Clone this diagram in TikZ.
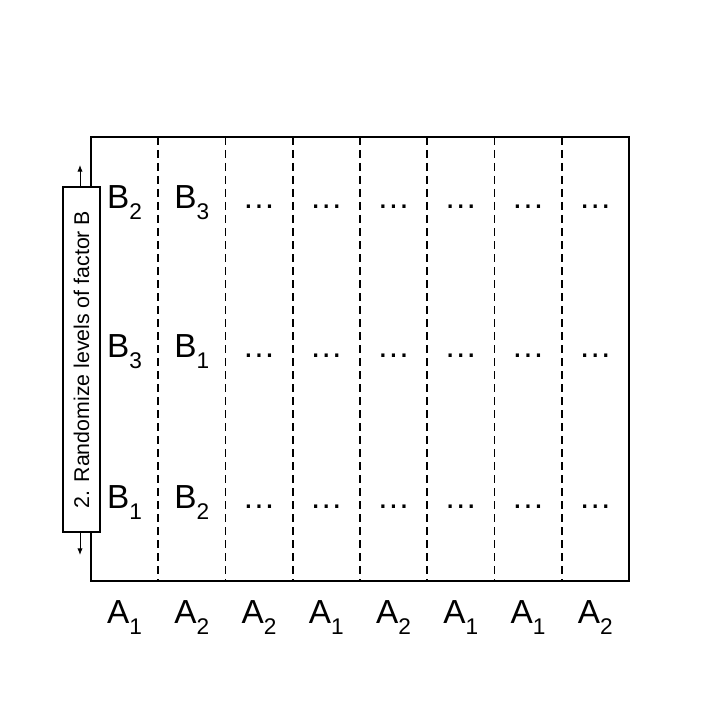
\documentclass[tikz,border=0pt]{standalone}
\usepackage{fontspec}
\setmainfont{Liberation Sans}
\usetikzlibrary{arrows.meta}
\newcommand\low[1]{\raisebox{-8.25pt}{\fontsize{17}{17}\selectfont #1}}

\begin{document}
\begin{tikzpicture}[
  x=0.75pt, y=-0.75pt,
  frame/.style={draw, line width=1.5pt},
  split/.style={line width=1.4pt, dash pattern=on 6pt off 3.75pt},
  lab/.style={anchor=base, inner sep=0pt, font=\fontsize{25}{30}\selectfont},
  randbox/.style={draw, fill=white, line width=1.5pt, rotate=90, minimum width=259pt, minimum height=28pt, inner sep=0pt, font=\fontsize{16}{19}\selectfont},
  arr/.style={-{Latex[length=5pt,width=4pt]}, line width=0.75pt}
]
\useasboundingbox (0,0) rectangle (720,720);

% plot frame and the column splits
\coordinate (tl) at (91,137);
\coordinate (br) at (629,581);
\draw[frame] (tl) rectangle (br);
\draw[split] (158.25,137) -- (158.25,581);
\draw[split] (225.5,137) -- (225.5,581);
\draw[split] (292.75,137) -- (292.75,581);
\draw[split] (360,137) -- (360,581);
\draw[split] (427.25,137) -- (427.25,581);
\draw[split] (494.5,137) -- (494.5,581);
\draw[split] (561.75,137) -- (561.75,581);

% randomisation box with its arrows
\node[randbox] (rand) at (81.4,359.4) {2. Randomize levels of factor B};
\coordinate (up) at (80,165);
\coordinate (down) at (80,555);
\draw[arr] (rand.east -| up) -- (up);
\draw[arr] (rand.west -| down) -- (down);

% top row
\node[lab] (b11) at (124.6,209) {B\low{2}};
\node[lab] (b12) at (191.9,209) {B\low{3}};
\node[lab] (b13) at (259.1,209) {…};
\node[lab] (b14) at (326.4,209) {…};
\node[lab] (b15) at (393.6,209) {…};
\node[lab] (b16) at (460.9,209) {…};
\node[lab] (b17) at (528.1,209) {…};
\node[lab] (b18) at (595.4,209) {…};

% middle row
\node[lab] (b21) at (124.6,357) {B\low{3}};
\node[lab] (b22) at (191.9,357) {B\low{1}};
\node[lab] (b23) at (259.1,357) {…};
\node[lab] (b24) at (326.4,357) {…};
\node[lab] (b25) at (393.6,357) {…};
\node[lab] (b26) at (460.9,357) {…};
\node[lab] (b27) at (528.1,357) {…};
\node[lab] (b28) at (595.4,357) {…};

% bottom row
\node[lab] (b31) at (124.6,508) {B\low{1}};
\node[lab] (b32) at (191.9,508) {B\low{2}};
\node[lab] (b33) at (259.1,508) {…};
\node[lab] (b34) at (326.4,508) {…};
\node[lab] (b35) at (393.6,508) {…};
\node[lab] (b36) at (460.9,508) {…};
\node[lab] (b37) at (528.1,508) {…};
\node[lab] (b38) at (595.4,508) {…};

% levels of factor A
\node[lab] (a1) at (124.6,623) {A\low{1}};
\node[lab] (a2) at (191.9,623) {A\low{2}};
\node[lab] (a3) at (259.1,623) {A\low{2}};
\node[lab] (a4) at (326.4,623) {A\low{1}};
\node[lab] (a5) at (393.6,623) {A\low{2}};
\node[lab] (a6) at (460.9,623) {A\low{1}};
\node[lab] (a7) at (528.1,623) {A\low{1}};
\node[lab] (a8) at (595.4,623) {A\low{2}};
\end{tikzpicture}
\end{document}
